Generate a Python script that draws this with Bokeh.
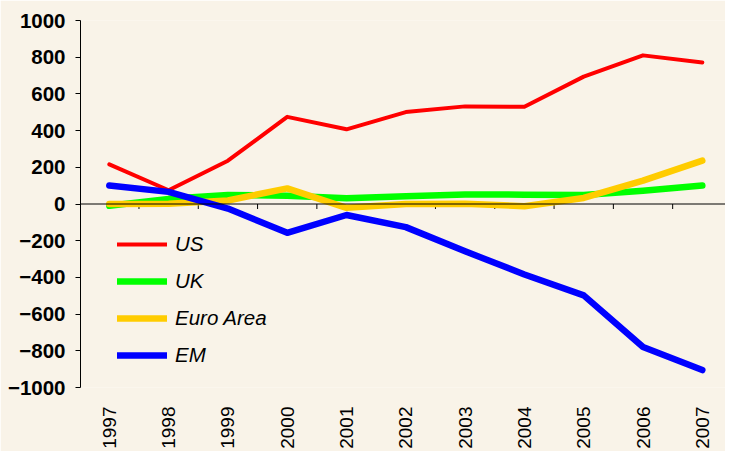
import math
from bokeh.plotting import figure
from bokeh.models import (Range1d, FixedTicker, Span, Legend, LegendItem)
from bokeh.embed import file_html
from bokeh.resources import INLINE

years = ["1997", "1998", "1999", "2000", "2001", "2002", "2003", "2004", "2005", "2006", "2007"]
us = [216, 75, 236, 475, 407, 501, 532, 530, 694, 810, 771]
uk = [-10, 28, 49, 45, 31, 42, 52, 51, 49, 72, 101]
euro = [0, 2, 19, 85, -21, 0, 2, -12, 33, 127, 236]
em = [101, 66, -25, -157, -60, -126, -258, -384, -498, -779, -905]
y_ticks = [-1000, -800, -600, -400, -200, 0, 200, 400, 600, 800, 1000]

BG = "#F9F3E8"
FONT = "Liberation Sans"

idx = list(range(len(years)))
p = figure(width=725, height=451, output_backend="svg", toolbar_location=None,
           x_range=Range1d(-0.486, 10.391), y_range=Range1d(-1000, 1000),
           min_border_left=80, min_border_right=0, min_border_top=20, min_border_bottom=0)
p.background_fill_color = BG
p.border_fill_color = BG
p.outline_line_color = None
p.xgrid.visible = False
p.ygrid.visible = False

# y axis
ya = p.yaxis[0]
ya.ticker = FixedTicker(ticks=y_ticks)
ya.minor_tick_line_color = None
ya.major_tick_in = 0
ya.major_tick_out = 5
ya.major_label_standoff = 10
ya.axis_line_color = "#000000"
ya.major_tick_line_color = "#000000"
ya.major_label_text_font = FONT
ya.major_label_text_font_style = "bold"
ya.major_label_text_font_size = "20.5px"
ya.major_label_text_color = "#000000"

# x axis (labels only)
xa = p.xaxis[0]
xa.ticker = FixedTicker(ticks=idx)
xa.major_label_overrides = {i: y for i, y in enumerate(years)}
xa.major_label_orientation = math.pi / 2
xa.axis_line_color = None
xa.major_tick_line_color = None
xa.minor_tick_line_color = None
xa.major_tick_in = 0
xa.major_tick_out = 0
xa.major_label_standoff = 19
xa.major_label_text_font = FONT
xa.major_label_text_font_size = "19px"
xa.major_label_text_color = "#000000"

# zero line with category-boundary ticks
p.add_layout(Span(location=0, dimension="width", line_color="#000000", line_width=1))
bounds = [i + 0.5 for i in idx[:-1]]
tick_len = 2000 / 366 * 5
p.segment(x0=bounds, x1=bounds, y0=[0] * len(bounds), y1=[-tick_len] * len(bounds),
          line_color="#000000", line_width=1)

series = [("US", us, "#FF0000", 4), ("UK", uk, "#00FF00", 6.5),
          ("Euro Area", euro, "#FFCC00", 6.5), ("EM", em, "#0000FF", 6.5)]
items = []
for name, vals, col, w in series:
    r = p.line(idx, vals, line_color=col, line_width=w, line_cap="round", line_join="round")
    items.append(LegendItem(label=name, renderers=[r]))

legend = Legend(items=items, location=(37, 20), padding=0, margin=0,
                background_fill_alpha=0, border_line_color=None,
                glyph_width=50, glyph_height=20, label_height=20, spacing=13,
                label_standoff=8, label_text_font=FONT, label_text_font_style="italic",
                label_text_font_size="20.5px", label_text_color="#000000")
p.add_layout(legend)

open("out.html", "w").write(file_html(p, INLINE))
